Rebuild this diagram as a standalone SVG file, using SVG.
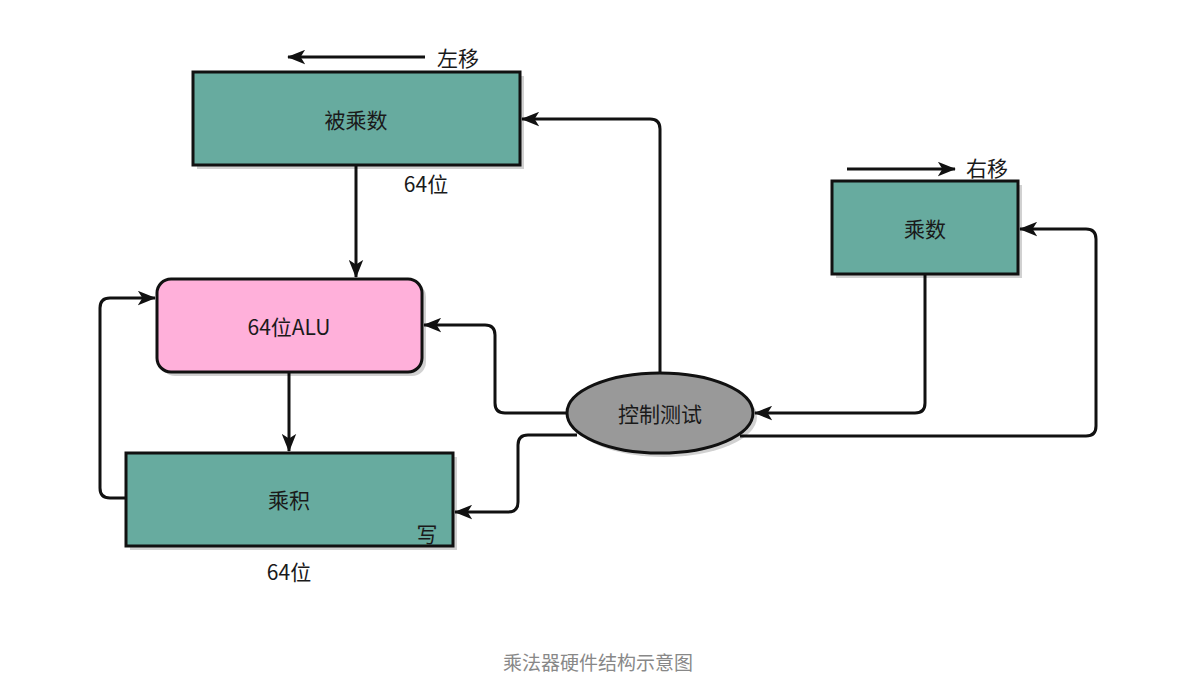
<svg xmlns="http://www.w3.org/2000/svg" width="1190" height="689" viewBox="0 0 1190 689">
<style>
text{font-family:"Noto Sans CJK SC","Liberation Sans",sans-serif;fill:#1a1a1a}
.lbl{font-size:21px;text-anchor:middle;dominant-baseline:central}
.box{fill:#67AB9F;stroke:#111;stroke-width:3}
.sh{fill:#000;opacity:0.18}
.c{fill:none;stroke:#111;stroke-width:3;stroke-linejoin:round;marker-end:url(#ah)}
</style>
<defs>
<marker id="ah" viewBox="0 0 20 16" refX="19" refY="8" markerWidth="18" markerHeight="15" markerUnits="userSpaceOnUse" orient="auto">
<path d="M0,0 L20,8 L0,16 L5,8 Z" fill="#111"/>
</marker>
</defs>
<rect width="1190" height="689" fill="#fff"/>
<g id="connectors">
<path class="c" d="M356,166 V277"/>
<path class="c" d="M289,373 V451"/>
<path class="c" d="M126,498 H110 Q100,498 100,488 V308 Q100,298 110,298 H155"/>
<path class="c" d="M660,373 V129 Q660,119 650,119 H522"/>
<path class="c" d="M567,413 H505 Q495,413 495,403 V335 Q495,325 485,325 H424"/>
<path class="c" d="M577,435 H528 Q518,435 518,445 V502 Q518,512 508,512 H455"/>
<path class="c" d="M925,275 V403 Q925,413 915,413 H755"/>
<path class="c" d="M740,436 H1086 Q1096,436 1096,426 V239 Q1096,229 1086,229 H1020"/>
<path class="c" d="M425,57 H288"/>
<path class="c" d="M847,169 H955"/>
</g>
<g id="n-multiplicand">
<rect class="sh" x="197" y="76" width="327" height="93"/>
<rect class="box" x="193" y="72" width="327" height="93"/>
<text class="lbl" x="356" y="119">被乘数</text>
</g>
<g id="lbl-left"><text class="lbl" x="458" y="57">左移</text></g>
<g id="lbl-64a"><text class="lbl" x="426" y="183">64位</text></g>
<g id="n-multiplier">
<rect class="sh" x="836" y="185" width="186" height="93"/>
<rect class="box" x="832" y="181" width="186" height="93"/>
<text class="lbl" x="925" y="228">乘数</text>
</g>
<g id="lbl-right"><text class="lbl" x="987" y="167">右移</text></g>
<g id="n-alu">
<rect class="sh" x="161" y="283" width="265" height="93" rx="14"/>
<rect x="157" y="279" width="265" height="93" rx="14" fill="#FFB0DA" stroke="#111" stroke-width="3"/>
<text class="lbl" x="289" y="326">64位ALU</text>
</g>
<g id="n-product">
<rect class="sh" x="130" y="457" width="327" height="93"/>
<rect class="box" x="126" y="453" width="327" height="93"/>
<text class="lbl" x="289" y="499">乘积</text>
<text class="lbl" x="427" y="533">写</text>
</g>
<g id="lbl-64b"><text class="lbl" x="289" y="571">64位</text></g>
<g id="n-control">
<ellipse class="sh" cx="664" cy="417" rx="93" ry="40"/>
<ellipse cx="660" cy="413" rx="93" ry="40" fill="#999" stroke="#111" stroke-width="3"/>
<text class="lbl" x="660" y="413">控制测试</text>
</g>
<g id="caption"><text x="598" y="661" font-size="19" text-anchor="middle" dominant-baseline="central" style="fill:#888">乘法器硬件结构示意图</text></g>
</svg>
